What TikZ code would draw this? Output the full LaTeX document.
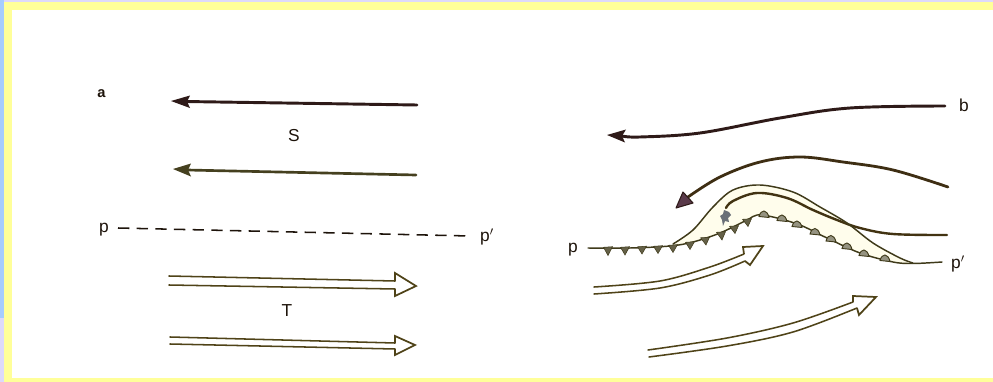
\documentclass[tikz,border=0pt]{standalone}
\usepackage{fontspec}
\setmainfont{Liberation Sans}
\definecolor{band}{HTML}{FFFF99}
\definecolor{sideblue}{HTML}{A6CCFF}
\definecolor{sidelav}{HTML}{DDD9FA}
\definecolor{topink}{HTML}{2E1A18}
\definecolor{oliveink}{HTML}{45401F}
\definecolor{dbl}{HTML}{4F4318}
\definecolor{frontink}{HTML}{3F3A1A}
\definecolor{warm}{HTML}{FFFDEC}
\definecolor{headpurple}{HTML}{5A3A4A}
\definecolor{blot}{HTML}{6A7078}
\tikzset{
  lbl/.style={font=\fontsize{13}{14}\selectfont,text=black!85!brown,inner sep=0pt},
  thick ink/.style={draw=topink,line width=2.2pt,line cap=round},
  thin dbl/.style={draw=dbl,line width=1.15pt,line cap=round},
  head dbl/.style={draw=dbl,line width=1.3pt,line join=miter,fill=white},
  frontline/.style={draw=frontink,line width=1.1pt,line cap=round},
  tooth/.style={fill=frontink!80,draw=frontink,line width=0.4pt},
  bump/.style={fill=frontink!55,draw=frontink,line width=0.7pt},
}
\begin{document}
\begin{tikzpicture}[x=0.75pt,y=-0.75pt]
\useasboundingbox (0,0) rectangle (993,382);
% frame
\fill[sidelav] (0,0) rectangle (993,382);
\fill[sideblue] (0,0) rectangle (4,318);
\fill[band] (4,2) rectangle (993,382);
\fill[white] (12,10) rectangle (993,378);

% left panel
\draw[thick ink] (417,105) -- (185,101.5);
\fill[topink] (171,101) -- (190,95.5) -- (187,101.5) -- (190,108) -- cycle;
\draw[draw=oliveink,line width=2pt,line cap=round] (416,175) -- (187,170);
\fill[oliveink] (173,169) -- (191,163.5) -- (188,170) -- (191,176.5) -- cycle;
\draw[draw=black!85!brown,line width=1.15pt,dash pattern=on 8.5pt off 5.5pt] (118,228) -- (470,236);

\draw[thin dbl] (169,276) -- (395,281);
\draw[thin dbl] (169,285) -- (395,289);
\draw[head dbl,fill=none] (395,281) -- (395,273) -- (416,286) -- (395,296) -- (395,289);
\draw[thin dbl] (170,337) -- (395,343);
\draw[thin dbl] (170,344) -- (395,349);
\draw[head dbl,fill=none] (395,343) -- (395,336) -- (415,345) -- (395,355) -- (395,349);

% right panel: warm sector
\fill[warm] plot[smooth,tension=0.55] coordinates {(673,244) (693,230) (713,207) (733,190) (760,185) (793,192) (820,207) (847,223) (873,243) (900,258) (913,263)}
 -- plot[smooth,tension=0.55] coordinates {(913,263) (893,262) (860,253) (827,238) (800,225) (773,217) (757,215) (747,220) (720,233) (693,242) (673,246)} -- cycle;

% top arrows
\draw[thick ink] plot[smooth,tension=0.6] coordinates {(945,106) (850,108) (780,118) (700,133) (640,137) (622,136)};
\fill[topink] (607,135) -- (626,129.5) -- (622,136) -- (625,142.5) -- cycle;
\draw[draw=topink!80!olive,line width=2.1pt,line cap=round] plot[smooth,tension=0.6] coordinates {(948,187) (893,170) (843,162) (800,157) (760,162) (720,177) (688,197)};
\filldraw[fill=headpurple,draw=topink,line width=0.8pt,line join=round] (676,208) -- (683,192) -- (693,203) -- cycle;

% middle line
\draw[draw=topink!75!olive,line width=1.8pt,line cap=round] plot[smooth,tension=0.6] coordinates {(726,208) (733,201) (757,193) (787,198) (813,210) (837,220) (860,228) (893,234) (947,235)};
\fill[blot] (724,210) -- (729,212) -- (731,215) -- (728,218) -- (729,222) -- (725,221) -- (723,226) -- (722,220) -- (720,216) -- (723,214) -- cycle;

% fronts
\draw[frontline] plot[smooth,tension=0.55] coordinates {(673,244) (693,230) (713,207) (733,190) (760,185) (793,192) (820,207) (847,223) (873,243) (900,258) (913,263)};
\draw[frontline] plot[smooth,tension=0.55] coordinates {(588,248) (630,248) (670,246) (693,242) (720,233) (747,220) (757,215) (773,217) (800,225) (827,238) (860,253) (893,262) (913,263.5) (942,262)};

% teeth: x, y on the line, tip x, tip y
\foreach \xa/\ya/\tx/\ty in {608/248/608/255.5,625/248/625/255,642/247.5/642/254,658/247/658/253.5,673/246/673/252.5,690/243/690/249.5,705/238.5/706/245,721/233/722/240,734/227/735/233.5,747/220/748/226.5}
  \fill[tooth] (\xa-4.5,\ya-0.7) -- (\xa+4.5,\ya-1.3) -- (\tx,\ty) -- cycle;
% bumps on the warm side
\foreach \xa/\ya in {764/216,782/220,797/226,815/233.5,831/240.5,847/248,864/255,885/260}
  \filldraw[bump] (\xa-5,\ya+0.5) .. controls (\xa-3,\ya-7) and (\xa+3,\ya-7) .. (\xa+5,\ya+1.5) -- cycle;

% warm conveyor arrows
\draw[thin dbl] plot[smooth,tension=0.55] coordinates {(594,287) (660,281) (710,267) (744,254)};
\draw[thin dbl] plot[smooth,tension=0.55] coordinates {(594,294) (660,288) (710,275) (745,261)};
\draw[head dbl,fill=none] (744,254) -- (743,247) -- (763,246) -- (750,265) -- (745,261);
\draw[thin dbl] plot[smooth,tension=0.55] coordinates {(648,350) (727,338) (793,323) (853,302)};
\draw[thin dbl] plot[smooth,tension=0.55] coordinates {(649,357) (727,346) (793,332) (857,308)};
\draw[head dbl,fill=none] (853,302) -- (853,296) -- (876,297) -- (859,315) -- (857,308);

% labels
\node[lbl,font=\fontsize{11}{12}\bfseries\selectfont] (a) at (101.5,94) {a};
\node[lbl] (S) at (294,136) {S};
\node[lbl] (T) at (287,311) {T};
\node[lbl] (pl) at (104,230) {p};
\node[lbl] (ppl) at (487,237) {p$'$};
\node[lbl] (b) at (964,105) {b};
\node[lbl] (pr) at (573,250) {p};
\node[lbl] (ppr) at (958,264) {p$'$};
\end{tikzpicture}
\end{document}
